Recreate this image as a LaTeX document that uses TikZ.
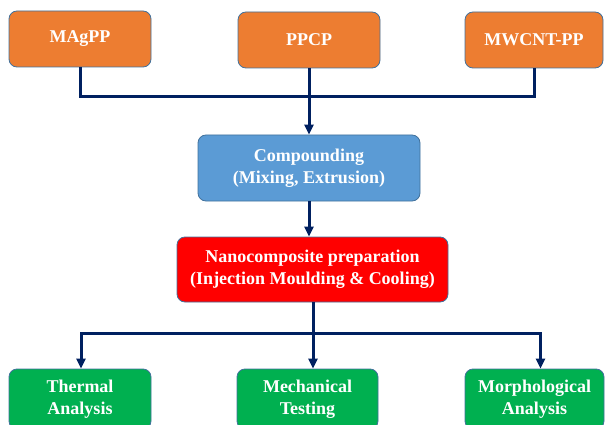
\documentclass[tikz,border=0pt]{standalone}
\usepackage{fontspec}
\setmainfont{Liberation Serif}
\usetikzlibrary{arrows.meta}
\definecolor{boxorange}{HTML}{ED7D31}
\definecolor{boxblue}{HTML}{5B9BD5}
\definecolor{boxred}{HTML}{FF0000}
\definecolor{boxgreen}{HTML}{00B050}
\definecolor{boxedge}{HTML}{41719C}
\definecolor{linknavy}{HTML}{002060}
\tikzset{
  box/.style={draw=boxedge, line width=0.8pt, rounded corners=8pt, text=white,
    font=\fontsize{18}{22}\selectfont\bfseries, align=center, inner sep=0pt},
  link/.style={draw=linknavy, line width=3pt},
  arr/.style={link, -{Triangle[length=10pt,width=9pt]}},
}
\begin{document}
\begin{tikzpicture}[x=1pt,y=-1pt]
\useasboundingbox (0,0) rectangle (605,425);
\node[box, fill=boxorange, minimum width=142pt, minimum height=56pt] (m) at (80,39) {MAgPP};
\node[box, fill=boxorange, minimum width=142pt, minimum height=56pt] (p) at (309,40) {PPCP};
\node[box, fill=boxorange, minimum width=138pt, minimum height=56pt] (w) at (534,40) {MWCNT-PP};
\node[box, fill=boxblue, minimum width=222pt, minimum height=66pt] (c) at (309,168) {Compounding\\(Mixing, Extrusion)};
\node[box, fill=boxred, minimum width=271pt, minimum height=65pt] (n) at (312.5,269.5) {Nanocomposite preparation\\(Injection Moulding \& Cooling)};
\node[box, fill=boxgreen, minimum width=142pt, minimum height=60pt] (t) at (80,399) {Thermal\\Analysis};
\node[box, fill=boxgreen, minimum width=141pt, minimum height=60pt] (k) at (307.5,399) {Mechanical\\Testing};
\node[box, fill=boxgreen, minimum width=139pt, minimum height=60pt] (g) at (534.5,399) {Morphological\\Analysis};
\coordinate (j1) at (309,97);
\coordinate (j2) at (313,333);
\draw[link] (m.south) |- (j1);
\draw[link] (w.south) |- (j1);
\draw[link] (p.south) -- (j1);
\draw[arr] (j1) -- (c.north);
\draw[arr] (c.south) -- (c.south |- n.north);
\draw[link] (n.south -| j2) -- (j2);
\draw[arr] (j2) -| ([xshift=1pt]t.north);
\draw[arr] (j2) -- (j2 |- k.north);
\draw[arr] (j2) -| ([xshift=6pt]g.north);
\end{tikzpicture}
\end{document}
